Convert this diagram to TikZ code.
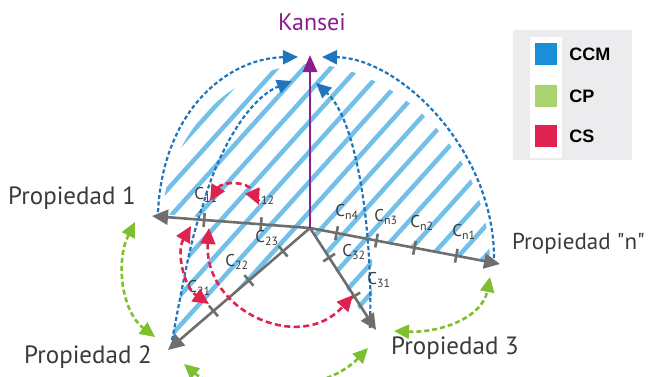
\documentclass[tikz,border=0pt]{standalone}
\usepackage{fontspec}
\setmainfont{PT Sans}
\newfontfamily\legendfont{Liberation Sans}
\usepackage{xcolor}
\usepackage{tikz}
\usetikzlibrary{arrows.meta,positioning,calc}

\definecolor{axisgray}{HTML}{6E6E6E}
\definecolor{textgray}{HTML}{3A3A3A}
\definecolor{kanseipurple}{HTML}{8C1D8C}
\definecolor{hatchblue}{HTML}{72C0EA}
\definecolor{ccmdash}{HTML}{1F74BC}
\definecolor{ccmblue}{HTML}{1A8FD9}
\definecolor{cpgreen}{HTML}{7DBF2C}
\definecolor{cplegend}{HTML}{A9D470}
\definecolor{csred}{HTML}{E0234E}
\definecolor{legendgray}{HTML}{ECECEE}

\begin{document}
\begin{tikzpicture}[
    x=1pt, y=-1pt,
    axis/.style={draw=axisgray, line width=2.6pt, -{Triangle[length=16pt,width=15pt]}},
    tick/.style={sloped, rectangle, fill=axisgray, inner sep=0pt, minimum width=2.6pt, minimum height=14pt},
    stripe/.style={draw=hatchblue, line width=4.5pt},
    ccm/.style={draw=ccmdash, line width=2.2pt, dash pattern=on 4pt off 2.5pt, -{Triangle[length=15pt,width=14pt]}},
    cs/.style={draw=csred, line width=2.6pt, dash pattern=on 6pt off 3.5pt, {Triangle[length=16pt,width=15pt]}-{Triangle[length=16pt,width=15pt]}},
    cp/.style={draw=cpgreen, line width=2.6pt, dash pattern=on 5pt off 3pt, {Triangle[length=15pt,width=14pt]}-{Triangle[length=15pt,width=14pt]}},
    prop/.style={font=\fontsize{25}{25}\selectfont, text=textgray, inner sep=0pt},
    clabel/.style={font=\fontsize{17}{17}\selectfont, text=textgray, inner sep=1pt},
    swatch/.style={rectangle, inner sep=0pt, minimum size=22pt},
    legtext/.style={font=\legendfont\bfseries\fontsize{18}{18}\selectfont, text=black, inner sep=0pt, anchor=west}
]

\useasboundingbox (0,0) rectangle (648,376);

% axes end points
\coordinate (O) at (310,228);
\coordinate (p1) at (152,216);
\coordinate (pn) at (500,264);
\coordinate (p2) at (168,350);
\coordinate (p3) at (376,330);
\coordinate (k) at (310,55);

% hatched CCM region
\begin{scope}
\clip (162,214) .. controls (170,125) and (238,66) .. (310,64)
      .. controls (388,66) and (488,145) .. (490,262) -- (372,241) -- (372,330)
      -- (O) -- (170,348) .. controls (182,290) and (190,240) .. (200,217) -- cycle;
\foreach \s in {-400,-373,...,560}
    \draw[stripe] (\s,400) -- ++(360,-400);
\end{scope}

% CCM curves towards Kansei
\coordinate (kl) at (298,57);
\coordinate (kr) at (322,57);
\coordinate (kil) at (292,81);
\coordinate (kir) at (316,83);
\coordinate (b1) at (158,212);
\coordinate (b2) at (172,340);
\coordinate (b3) at (370,328);
\coordinate (bn) at (494,258);
\draw[ccm] (b1) .. controls (163,110) and (228,58) .. (kl);
\draw[ccm] (bn) .. controls (494,150) and (400,58) .. (kr);
\draw[ccm] (b2) .. controls (182,290) and (190,240) .. (203,205) .. controls (215,160) and (245,100) .. (kil);
\draw[ccm] (b3) .. controls (373,230) and (357,120) .. (kir);

% property axes with their ticks
\draw[axis] (O) -- (p1) node[tick, pos=.31] (t12) {} node[tick, pos=.67] (t11) {};
\draw[axis] (O) -- (p2) node[tick, pos=.19] (t23) {} node[tick, pos=.43] (t22) {} node[tick, pos=.68] (t21) {};
\draw[axis] (O) -- (p3) node[tick, pos=.29] (t32) {} node[tick, pos=.67] (t31) {};
\draw[axis] (O) -- (pn) node[tick, pos=.14] (tn4) {} node[tick, pos=.35] (tn3) {} node[tick, pos=.55] (tn2) {} node[tick, pos=.77] (tn1) {};

% Kansei axis
\draw[draw=kanseipurple, line width=2.8pt, -{Triangle[length=17pt,width=14pt]}] (O) -- (k);
\node[font=\fontsize{24}{24}\selectfont, text=kanseipurple] (kansei) at (312,22) {Kansei};

% labels of the criteria
\node[clabel] (c11) at (206,195) {C\textsubscript{11}};
\node[clabel] (c12) at (263,197) {C\textsubscript{12}};
\node[clabel] (c23) at (267,238) {C\textsubscript{23}};
\node[clabel] (c22) at (237,262) {C\textsubscript{22}};
\node[clabel] (c21) at (199,288) {C\textsubscript{21}};
\node[clabel] (cn4) at (347,212) {C\textsubscript{n4}};
\node[clabel] (cn3) at (386,217) {C\textsubscript{n3}};
\node[clabel] (cn2) at (422,223) {C\textsubscript{n2}};
\node[clabel] (cn1) at (464,232) {C\textsubscript{n1}};
\node[clabel] (c32) at (354,252) {C\textsubscript{32}};
\node[clabel] (c31) at (379,280) {C\textsubscript{31}};

% CS links
\coordinate (r1a) at (210,201);
\coordinate (r1b) at (259,205);
\coordinate (r2a) at (191,226);
\coordinate (r2b) at (209,304);
\coordinate (r3a) at (209,228);
\coordinate (r3b) at (353,295);
\draw[cs] (r1a) .. controls (222,181) and (248,181) .. (r1b);
\draw[cs] (r2a) .. controls (176,252) and (184,287) .. (r2b);
\draw[cs] (r3a) .. controls (203,310) and (300,355) .. (r3b);

% CP links
\coordinate (g1a) at (135,222);
\coordinate (g1b) at (155,337);
\coordinate (g2a) at (184,364);
\coordinate (g2b) at (368,348);
\coordinate (g3a) at (394,331);
\coordinate (g3b) at (490,277);
\draw[cp] (g1a) .. controls (115,262) and (122,312) .. (g1b);
\draw[cp] (g2a) .. controls (220,395) and (320,398) .. (g2b);
\draw[cp] (g3a) .. controls (440,333) and (482,318) .. (g3b);

% property names
\node[prop] (prop1) at (72,198) {Propiedad 1};
\node[prop] (prop2) at (88,357) {Propiedad 2};
\node[prop] (prop3) at (455,348) {Propiedad 3};
\node[prop, font=\fontsize{23}{23}\selectfont, anchor=east] (propn) at (645,244) {Propiedad \textquotedbl n\textquotedbl};

% legend
\node[rectangle, fill=legendgray, minimum width=119pt, minimum height=130pt] (legend) at (572,95) {};
\node[rectangle, fill=white, minimum width=32pt, minimum height=121pt] (legcol) at (546,97) {};
\node[swatch, fill=ccmblue] (sw1) at (546,54) {};
\node[swatch, fill=cplegend] (sw2) at (546,96) {};
\node[swatch, fill=csred] (sw3) at (546,136) {};
\node[legtext, right=12pt of sw1] (l1) {CCM};
\node[legtext, right=12pt of sw2] (l2) {CP};
\node[legtext, right=12pt of sw3] (l3) {CS};

\end{tikzpicture}
\end{document}
